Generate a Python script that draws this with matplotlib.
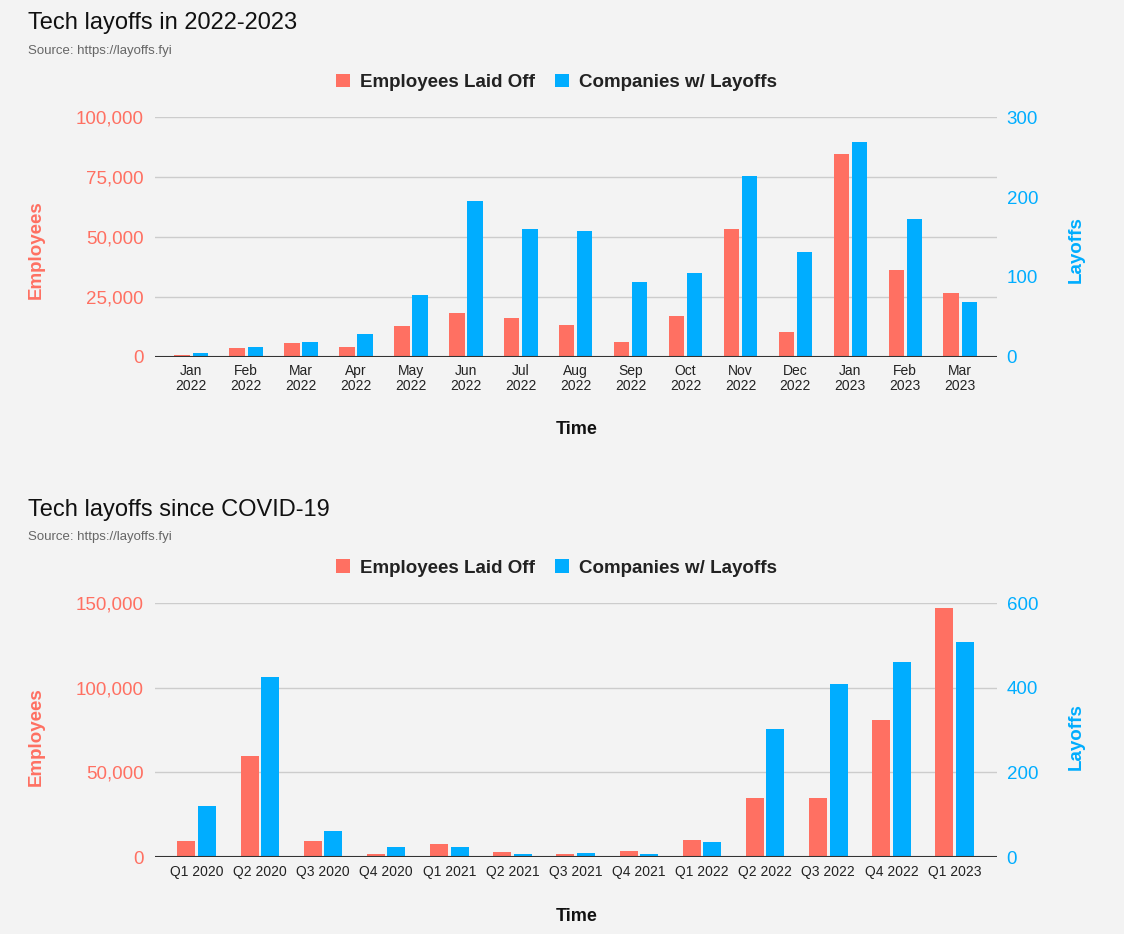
import matplotlib
matplotlib.use("Agg")
import matplotlib.pyplot as plt
import numpy as np
from matplotlib.ticker import FuncFormatter

plt.rcParams['font.family'] = ['Liberation Sans', 'DejaVu Sans']

# monthly data 2022-2023
months = ['Jan\n2022', 'Feb\n2022', 'Mar\n2022', 'Apr\n2022', 'May\n2022', 'Jun\n2022',
          'Jul\n2022', 'Aug\n2022', 'Sep\n2022', 'Oct\n2022', 'Nov\n2022', 'Dec\n2022',
          'Jan\n2023', 'Feb\n2023', 'Mar\n2023']
employees_monthly = [700, 3600, 5700, 4200, 12700, 18250, 16150, 13100,
                     6000, 17100, 53500, 10200, 84500, 36300, 26700]
companies_monthly = [5, 12, 18, 29, 77, 195, 160, 157, 94, 105, 226, 131, 269, 172, 68]

# quarterly data since covid
quarters = ['Q1 2020', 'Q2 2020', 'Q3 2020', 'Q4 2020', 'Q1 2021', 'Q2 2021', 'Q3 2021',
            'Q4 2021', 'Q1 2022', 'Q2 2022', 'Q3 2022', 'Q4 2022', 'Q1 2023']
employees_quarterly = [9300, 59900, 9300, 1600, 7900, 3000, 2000, 3500,
                       10000, 35100, 35100, 81200, 147200]
companies_quarterly = [120, 426, 61, 24, 24, 6, 9, 6, 35, 302, 410, 462, 509]

RED = '#ff7062'
BLUE = '#00adff'
BG = '#f3f3f3'
W, H = 1124, 934

fig = plt.figure(figsize=(W / 100, H / 100), dpi=100, facecolor=BG)


def panel(rect, cats, emp, comp, emp_max, emp_step, comp_max, comp_step, width, off,
          title, title_y, src_y, legend_y, ylab_y, time_y):
    ax = fig.add_axes(rect)
    ax.set_facecolor(BG)
    x = np.arange(len(cats))
    ax.bar(x - off, emp, width, color=RED, label='Employees Laid Off', zorder=2)
    ax.set_ylim(0, emp_max)
    ax.set_yticks(np.arange(0, emp_max + 1, emp_step))
    ax.yaxis.set_major_formatter(FuncFormatter(lambda v, p: '{:,.0f}'.format(v)))
    ax.grid(axis='y', color='#cccccc', linewidth=1, zorder=0)
    ax.set_axisbelow(True)
    ax.set_xticks(x)
    ax.set_xticklabels(cats, fontsize=10, color='#222222', linespacing=1.05)
    ax.set_xlim(-0.66, len(cats) - 1 + 0.67)
    ax.tick_params(axis='x', length=0, pad=5.5)
    ax.tick_params(axis='y', length=0, pad=8, labelsize=13.5, labelcolor=RED)
    for s in ax.spines.values():
        s.set_visible(False)
    ax.set_ylabel('Employees', fontsize=13.5, fontweight='bold', color=RED, va='center')
    ax.yaxis.set_label_coords(-0.141, ylab_y)
    ax.set_xlabel('Time', fontsize=13, fontweight='bold', color='#111111', va='center')
    ax.xaxis.set_label_coords(0.501, time_y)

    ax2 = ax.twinx()
    ax2.bar(x + off, comp, width, color=BLUE, label='Companies w/ Layoffs', zorder=2)
    ax2.set_ylim(0, comp_max)
    ax2.set_yticks(np.arange(0, comp_max + 1, comp_step))
    ax2.tick_params(axis='y', length=0, pad=7, labelsize=13.5, labelcolor=BLUE)
    for s in ax2.spines.values():
        s.set_visible(False)
    ax2.axhline(0, color='#333333', linewidth=1.5, zorder=5)
    ax2.set_ylabel('Layoffs', fontsize=13.5, fontweight='bold', color=BLUE, va='center')
    ax2.yaxis.set_label_coords(1.094, ylab_y)

    h1, l1 = ax.get_legend_handles_labels()
    h2, l2 = ax2.get_legend_handles_labels()
    leg = ax2.legend(h1 + h2, l1 + l2, loc='center', bbox_to_anchor=(0.477, legend_y),
                     ncol=2, frameon=False, handlelength=0.7, handleheight=0.7,
                     handletextpad=0.55, columnspacing=1.1,
                     prop={'size': 13.5, 'weight': 'bold'})
    for t in leg.get_texts():
        t.set_color('#222222')

    fig.text(28 / W, 1 - title_y / H, title, fontsize=17, color='#111111', va='baseline')
    fig.text(28 / W, 1 - src_y / H, 'Source: https://layoffs.fyi', fontsize=9.5,
             color='#666666', va='baseline')
    return ax, ax2


panel([155 / W, 1 - 356.7 / H, 842 / W, 239.4 / H], months, employees_monthly,
      companies_monthly, 100000, 25000, 300, 100, 0.28, 0.165,
      'Tech layoffs in 2022-2023', 29.5, 54, 1.147, 0.446, -0.306)

panel([155 / W, 1 - 857 / H, 842 / W, 253.7 / H], quarters, employees_quarterly,
      companies_quarterly, 150000, 50000, 600, 200, 0.285, 0.162,
      'Tech layoffs since COVID-19', 516, 540, 1.139, 0.473, -0.2326)

fig.savefig('out.png', dpi=100, facecolor=BG)
